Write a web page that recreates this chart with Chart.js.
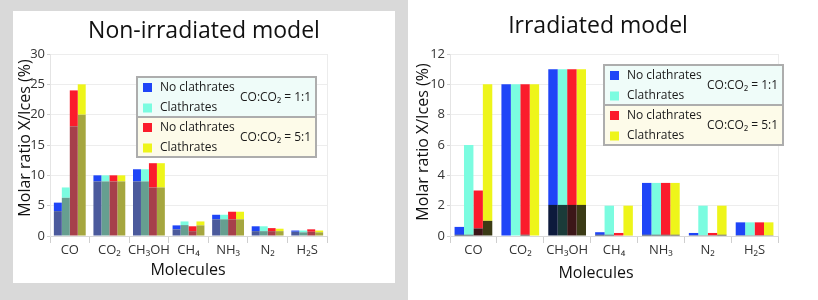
<!DOCTYPE html>
<html>
<head>
<meta charset="utf-8">
<script src="https://cdn.jsdelivr.net/npm/chart.js@4"></script>
<style>
  html, body { margin: 0; padding: 0; background: #fff; }
  body { width: 818px; height: 300px; position: relative; overflow: hidden; }
  .frame { position: absolute; left: 0; top: 0; width: 408px; height: 300px; background: #d9d9d9; }
  .panel { position: absolute; background: #fff; }
  #leftWrap { left: 13px; top: 11px; width: 382px; height: 272px; }
  #rightWrap { left: 410px; top: 0; width: 408px; height: 300px; }
</style>
</head>
<body>
<div class="frame"></div>
<div class="panel" id="leftWrap"><canvas id="leftChart"></canvas></div>
<div class="panel" id="rightWrap"><canvas id="rightChart"></canvas></div>
<script>
var molecules = ["CO", "CO\u2082", "CH\u2083OH", "CH\u2084", "NH\u2083", "N\u2082", "H\u2082S"];
var seriesNames = ["No clathrates", "Clathrates", "No clathrates", "Clathrates"];
var ratioLabels = ["CO:CO\u2082 = 1:1", "CO:CO\u2082 = 5:1"];

// Non-irradiated model: bar tops and the darker lower part
var nonIrrNoClath11 = [5.5, 10, 11, 1.75, 3.5, 1.6, 0.9];
var nonIrrClath11 = [8, 10, 11, 2.4, 3.5, 1.6, 0.9];
var nonIrrNoClath51 = [24, 10, 12, 1.6, 4, 1.3, 1.1];
var nonIrrClath51 = [25, 10, 12, 2.4, 4, 1.2, 0.9];
var nonIrrDarkNoClath11 = [4.1, 9, 9, 1.1, 2.75, 0.8, 0.7];
var nonIrrDarkClath11 = [6.3, 9, 9, 1.8, 2.75, 0.8, 0.6];
var nonIrrDarkNoClath51 = [18.1, 9, 8, 0.8, 2.75, 0.8, 0.7];
var nonIrrDarkClath51 = [20, 9, 8, 1.75, 2.75, 0.8, 0.6];

// Irradiated model
var irrNoClath11 = [0.6, 10, 11, 0.25, 3.5, 0.2, 0.9];
var irrClath11 = [6, 10, 11, 2, 3.5, 2, 0.9];
var irrNoClath51 = [3, 10, 11, 0.2, 3.5, 0.2, 0.9];
var irrClath51 = [10, 10, 11, 2, 3.5, 2, 0.9];
var irrDarkNoClath11 = [0.08, 0, 2.05, 0.08, 0.08, 0.05, 0.05];
var irrDarkClath11 = [0.08, 0, 2.05, 0.08, 0.08, 0.05, 0.05];
var irrDarkNoClath51 = [0.5, 0.08, 2.05, 0, 0.08, 0.05, 0.05];
var irrDarkClath51 = [1.0, 0, 2.05, 0.03, 0.08, 0.08, 0.05];

var nonIrrTicks = [0, 5, 10, 15, 20, 25, 30];
var irrTicks = [0, 2, 4, 6, 8, 10, 12];

(function () {
  var FONT = '"Open Sans", "DejaVu Sans", sans-serif';
  Chart.defaults.font.family = FONT;
  Chart.defaults.color = "#333";

  var colors = ["#1f45f7", "#7bfce0", "#fb1c2c", "#eef51a"];
  var darkSoft = ["#4b5a9c", "#669f90", "#a6404b", "#a5a63f"];
  var darkHard = ["#0d1a3c", "#1b3b39", "#3c1618", "#3b3b16"];

  function buildDatasets(tops, darks, darkColors) {
    var out = [];
    tops.forEach(function (top, s) {
      var dark = darks[s];
      out.push({
        label: seriesNames[s] + " (low)",
        data: dark,
        backgroundColor: darkColors[s],
        stack: "s" + s,
        borderWidth: 0
      });
      out.push({
        label: seriesNames[s],
        data: top.map(function (v, i) { return Math.max(0, v - dark[i]); }),
        backgroundColor: colors[s],
        stack: "s" + s,
        borderWidth: 0
      });
    });
    return out;
  }

  var decor = {
    id: "decor",
    beforeDatasetsDraw: function (chart) {
      var ctx = chart.ctx, a = chart.chartArea;
      ctx.save();
      ctx.strokeStyle = "#ececec";
      ctx.lineWidth = 1;
      ctx.beginPath();
      ctx.moveTo(a.right + 0.5, a.top);
      ctx.lineTo(a.right + 0.5, a.bottom);
      ctx.stroke();
      ctx.restore();
    },
    afterDraw: function (chart, args, o) {
      var ctx = chart.ctx;
      ctx.save();
      ctx.fillStyle = "#111";
      ctx.textAlign = "center";
      ctx.textBaseline = "middle";
      ctx.font = "23px " + FONT;
      ctx.fillText(o.title, o.titleX, o.titleY);

      ctx.font = "16px " + FONT;
      ctx.fillText("Molecules", o.xTitleX, o.xTitleY);
      ctx.save();
      ctx.translate(o.yTitleX, o.yTitleY);
      ctx.rotate(-Math.PI / 2);
      ctx.fillText("Molar ratio X/Ices (%)", 0, 0);
      ctx.restore();

      // legend boxes
      var lx = o.legendX, ly = o.legendY, w = 179, h = 40;
      var fills = ["#effcf9", "#fdfbe9"];
      for (var b = 0; b < 2; b++) {
        var by = ly + b * h;
        ctx.fillStyle = fills[b];
        ctx.fillRect(lx, by, w, h);
        ctx.strokeStyle = "#adadad";
        ctx.lineWidth = 2;
        ctx.strokeRect(lx, by, w, h);
        ctx.font = "12px " + FONT;
        ctx.textAlign = "left";
        for (var r = 0; r < 2; r++) {
          var s = b * 2 + r;
          var cy = by + 10.5 + r * 20.5;
          ctx.fillStyle = colors[s];
          ctx.fillRect(lx + 6, cy - 4.5, 9, 9);
          ctx.fillStyle = "#1a1a1a";
          ctx.fillText(seriesNames[s], lx + 23, cy);
        }
        ctx.fillText(ratioLabels[b], lx + 103, by + 21);
      }
      ctx.restore();
    }
  };

  function makeChart(id, tops, darks, darkColors, yMax, yStep, layout, deco) {
    var el = document.getElementById(id);
    return new Chart(el.getContext("2d"), {
      type: "bar",
      data: { labels: molecules, datasets: buildDatasets(tops, darks, darkColors) },
      options: {
        responsive: true,
        maintainAspectRatio: false,
        animation: false,
        categoryPercentage: 0.805,
        barPercentage: 1.0,
        layout: { padding: layout.padding },
        scales: {
          x: {
            stacked: true,
            offset: true,
            afterFit: function (scale) { scale.height = layout.xHeight; },
            grid: {
              offset: true,
              drawOnChartArea: false,
              tickLength: 7,
              tickColor: "#cfcfcf"
            },
            border: { color: "#d9d9d9" },
            ticks: { font: { size: 13, lineHeight: 1 }, color: "#333", padding: 1, maxRotation: 0, autoSkip: false }
          },
          y: {
            stacked: true,
            min: 0,
            max: yMax,
            afterFit: function (scale) { scale.width = layout.yWidth; },
            grid: { color: "#ededed", tickLength: 3, tickColor: "#cfcfcf" },
            border: { color: "#e4e4e4" },
            ticks: { stepSize: yStep, font: { size: 13 }, color: "#333", padding: 2 }
          }
        },
        plugins: {
          legend: { display: false },
          tooltip: { enabled: false },
          decor: deco
        }
      },
      plugins: [decor]
    });
  }

  makeChart(
    "leftChart",
    [nonIrrNoClath11, nonIrrClath11, nonIrrNoClath51, nonIrrClath51],
    [nonIrrDarkNoClath11, nonIrrDarkClath11, nonIrrDarkNoClath51, nonIrrDarkClath51],
    darkSoft,
    nonIrrTicks[nonIrrTicks.length - 1],
    nonIrrTicks[1] - nonIrrTicks[0],
    { padding: { top: 43, right: 68, left: 0, bottom: 0 }, xHeight: 47, yWidth: 37 },
    { title: "Non-irradiated model", titleX: 191, titleY: 20, xTitleX: 175, xTitleY: 259, yTitleX: 12, yTitleY: 127, legendX: 124, legendY: 66 }
  );

  makeChart(
    "rightChart",
    [irrNoClath11, irrClath11, irrNoClath51, irrClath51],
    [irrDarkNoClath11, irrDarkClath11, irrDarkNoClath51, irrDarkClath51],
    darkHard,
    irrTicks[irrTicks.length - 1],
    irrTicks[1] - irrTicks[0],
    { padding: { top: 54, right: 40, left: 0, bottom: 0 }, xHeight: 64, yWidth: 40 },
    { title: "Irradiated model", titleX: 188, titleY: 26, xTitleX: 186, xTitleY: 273, yTitleX: 13, yTitleY: 142, legendX: 194, legendY: 65 }
  );
})();
</script>
</body>
</html>
